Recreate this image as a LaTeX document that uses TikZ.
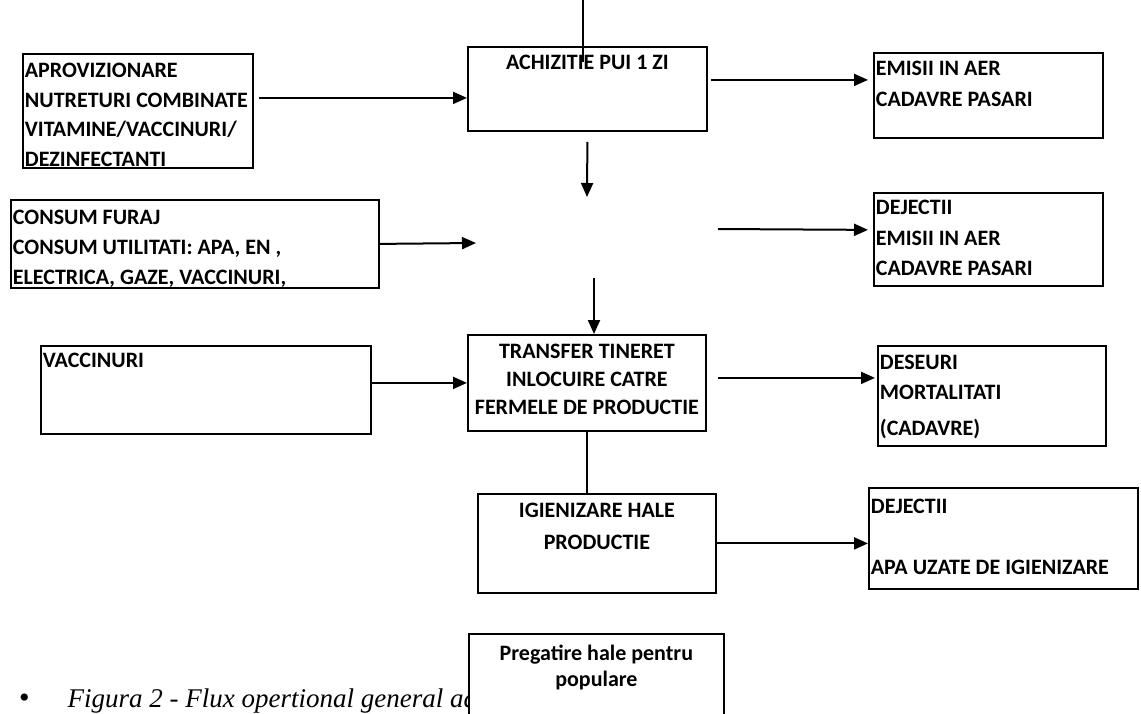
\documentclass[tikz,border=0pt]{standalone}
\usepackage{fontspec}
\setmainfont{Carlito}
\newfontfamily\captfont{Liberation Serif}
\usetikzlibrary{arrows.meta}
% text block inside a box: [align]{width}{height}{first baseline}{lines}
\newcommand{\inbox}[5][\raggedright]{\parbox[c][#3][t]{#2}{#1\rule{0pt}{#4}#5}}
\begin{document}
\begin{tikzpicture}[x=1pt,y=-1pt,
  box/.style={draw,line width=1.8pt,fill=white,inner xsep=2pt,inner ysep=0pt,anchor=north west,
    font=\fontsize{22}{29.5}\selectfont\bfseries},
  flow/.style={line width=2pt,-{Triangle[length=14pt,width=12pt]}},
  link/.style={line width=1.8pt}]
\fill[white] (0,0) rectangle (1141,713);
\useasboundingbox (0,0) rectangle (1141,713);
% caption (partly hidden by the last box)
\node[anchor=base west,inner sep=0pt,font=\captfont\fontsize{27}{29}\selectfont] (capt) at (19,707)
  {{\fontsize{30}{30}\selectfont\textbullet}\hspace{38pt}\textit{Figura 2 - Flux opertional general ad}};
% left column
\node[box] (aprov) at (22,53) {\inbox{226pt}{114pt}{24pt}{APROVIZIONARE\\NUTRETURI COMBINATE\\VITAMINE/VACCINURI/\\DEZINFECTANTI}};
\node[box] (consum) at (10,199) {\inbox{364pt}{88pt}{25pt}{CONSUM FURAJ\\[0.5pt]CONSUM UTILITATI: APA, EN ,\\[0.5pt]ELECTRICA, GAZE, VACCINURI,}};
\node[box] (vacc) at (40,345) {\inbox{326pt}{88pt}{22pt}{VACCINURI}};
% middle column
\node[box] (achiz) at (467,46) {\inbox[\centering]{235pt}{84pt}{23pt}{ACHIZITIE PUI 1 ZI}};
\node[box] (transfer) at (467,334) {\inbox[\centering]{234pt}{96pt}{24pt}{TRANSFER TINERET\\[-1.5pt]INLOCUIRE CATRE\\[-1.5pt]FERMELE DE PRODUCTIE}};
\node[box] (igien) at (477,493) {\inbox[\centering]{234pt}{99pt}{24pt}{IGIENIZARE HALE\\[2.5pt]PRODUCTIE}};
\node[box] (preg) at (468,633) {\inbox[\centering]{251pt}{82pt}{27pt}{Pregatire hale pentru\\[-3.5pt]populare}};
% right column
\node[box] (emisii) at (873,52) {\inbox{225pt}{85pt}{23pt}{EMISII IN AER\\[1.5pt]CADAVRE PASARI}};
\node[box] (dej) at (873,192) {\inbox{225pt}{93pt}{22pt}{DEJECTII\\[1pt]EMISII IN AER\\[1pt]CADAVRE PASARI}};
\node[box] (deseuri) at (877,345) {\inbox{224pt}{100pt}{24pt}{DESEURI\\[0.5pt]MORTALITATI\\[6.5pt](CADAVRE)}};
\node[box] (apa) at (868,487) {\inbox{265pt}{101pt}{26pt}{DEJECTII\\[31.5pt]APA UZATE DE IGIENIZARE}};
% free ends
\coordinate (src) at (583,0);
\coordinate (crestN) at (587,197);
\coordinate (crestW) at (476,243);
\coordinate (crestE) at (718,229);
\coordinate (crestS) at (594,278);
% connectors
\draw[link] (src) -- ([yshift=-16pt]achiz.north -| src);
\draw[flow,shorten <=5pt] ([yshift=13pt]aprov.east) -- ([yshift=-9pt]achiz.west);
\draw[flow,shorten <=3pt,shorten >=5pt] ([yshift=9pt]achiz.east) -- ([yshift=15.5pt]emisii.west);
\draw[flow] ([yshift=-10pt]achiz.south) -- (crestN);
\draw[flow] (consum.east) -- (crestW);
\draw[flow,shorten >=5pt] (crestE) -- ([yshift=9.5pt]dej.west);
\draw[flow] (crestS) -- (transfer.north -| crestS);
\draw[flow] ([yshift=7pt]vacc.east) -- (transfer.west);
\draw[flow,shorten <=11pt,shorten >=2pt] ([yshift=5pt]transfer.east) -- ([yshift=18pt]deseuri.west);
\draw[link] (transfer.south) -- (igien.north -| transfer.south);
\draw[flow] (igien.east) -- ([yshift=-5pt]apa.west);
\end{tikzpicture}
\end{document}
